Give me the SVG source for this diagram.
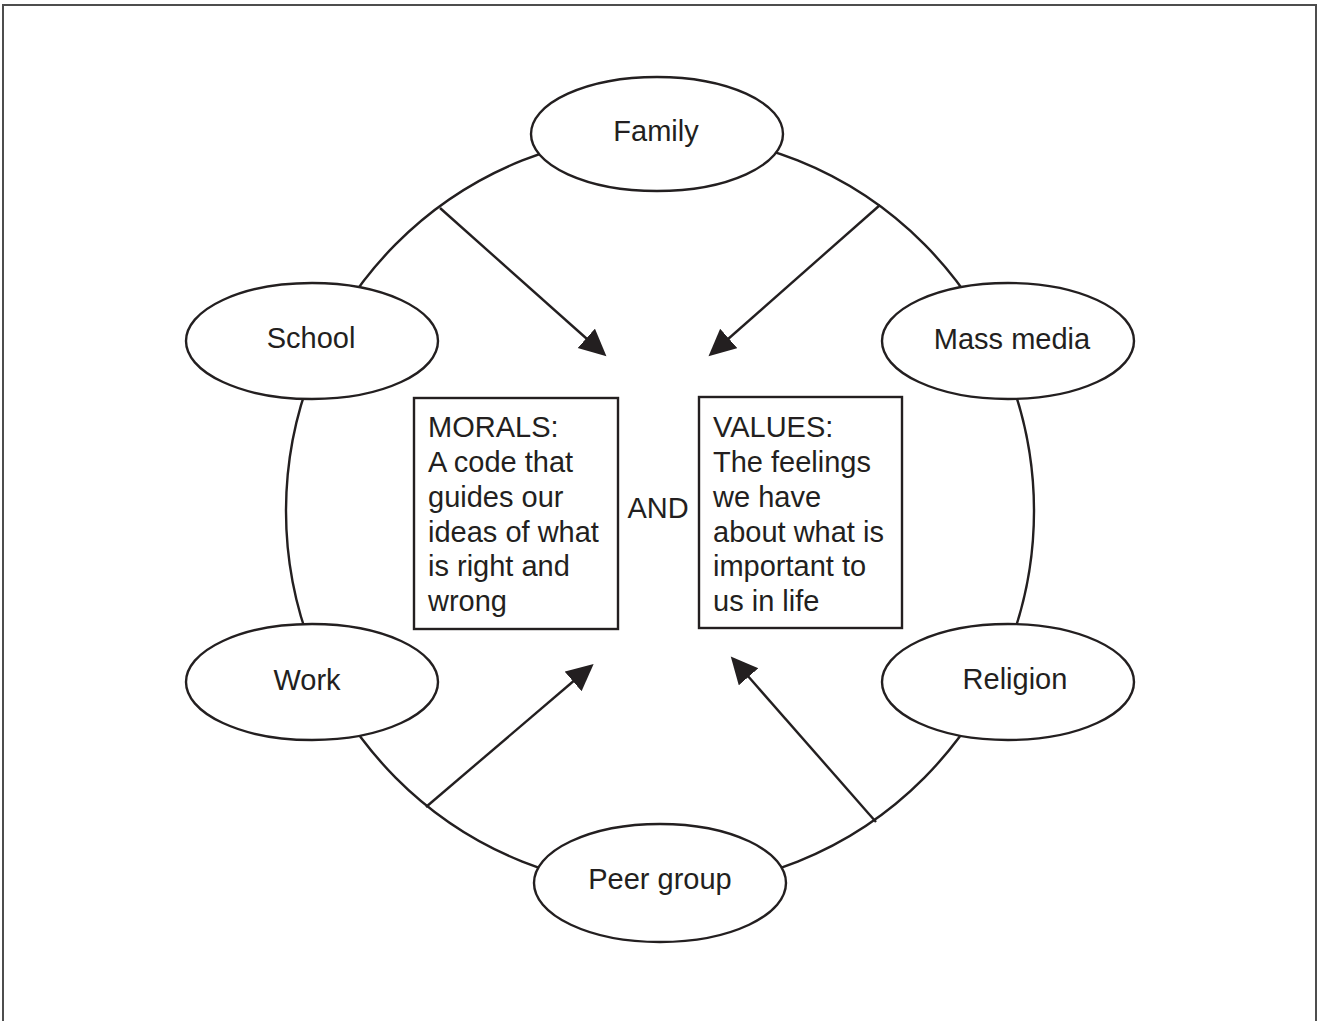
<svg xmlns="http://www.w3.org/2000/svg" width="1319" height="1021" viewBox="0 0 1319 1021">
<style>
.ln{fill:none;stroke:#231f20;stroke-width:2.4}
.nd{fill:#fff;stroke:#231f20;stroke-width:2.4}
.t{font-family:"Liberation Sans",Arial,Helvetica,sans-serif;font-size:29px;fill:#231f20}
.c{text-anchor:middle}
</style>
<defs>
<marker id="ah" markerUnits="userSpaceOnUse" markerWidth="28" markerHeight="28" refX="13" refY="13" orient="auto" viewBox="0 0 28 28">
<path d="M0,0 L27,13 L0,26 Z" fill="#231f20"/>
</marker>
</defs>
<rect width="1319" height="1021" fill="#fff"/>
<path d="M3,1021 V5 H1316 V1021" fill="none" stroke="#4d4d4d" stroke-width="2"/>
<g id="ring">
<ellipse class="ln" cx="660" cy="511" rx="374" ry="377"/>
</g>
<g id="connectors">
<line class="ln" x1="440" y1="208" x2="596" y2="347" marker-end="url(#ah)"/>
<line class="ln" x1="880" y1="205" x2="719" y2="347" marker-end="url(#ah)"/>
<line class="ln" x1="426" y1="807" x2="583" y2="673" marker-end="url(#ah)"/>
<line class="ln" x1="876" y1="822" x2="740" y2="667" marker-end="url(#ah)"/>
</g>
<g id="family"><ellipse class="nd" cx="657" cy="134" rx="126" ry="57"/><text class="t c" x="656" y="141">Family</text></g>
<g id="school"><ellipse class="nd" cx="312" cy="341" rx="126" ry="58"/><text class="t c" x="311" y="348">School</text></g>
<g id="massmedia"><ellipse class="nd" cx="1008" cy="341" rx="126" ry="58"/><text class="t c" x="1012" y="349">Mass media</text></g>
<g id="work"><ellipse class="nd" cx="312" cy="682" rx="126" ry="58"/><text class="t c" x="307" y="690">Work</text></g>
<g id="religion"><ellipse class="nd" cx="1008" cy="682" rx="126" ry="58"/><text class="t c" x="1015" y="689">Religion</text></g>
<g id="peergroup"><ellipse class="nd" cx="660" cy="883" rx="126" ry="59"/><text class="t c" x="660" y="889">Peer group</text></g>
<g id="morals">
<rect class="nd" x="414" y="398" width="204" height="231"/>
<text class="t" x="428" y="437">MORALS:</text>
<text class="t" x="428" y="472">A code that</text>
<text class="t" x="428" y="507">guides our</text>
<text class="t" x="428" y="542">ideas of what</text>
<text class="t" x="428" y="576">is right and</text>
<text class="t" x="428" y="611">wrong</text>
</g>
<g id="and"><text class="t c" x="658" y="518">AND</text></g>
<g id="values">
<rect class="nd" x="699" y="397" width="203" height="231"/>
<text class="t" x="713" y="437">VALUES:</text>
<text class="t" x="713" y="472">The feelings</text>
<text class="t" x="713" y="507">we have</text>
<text class="t" x="713" y="542">about what is</text>
<text class="t" x="713" y="576">important to</text>
<text class="t" x="713" y="611">us in life</text>
</g>
</svg>
